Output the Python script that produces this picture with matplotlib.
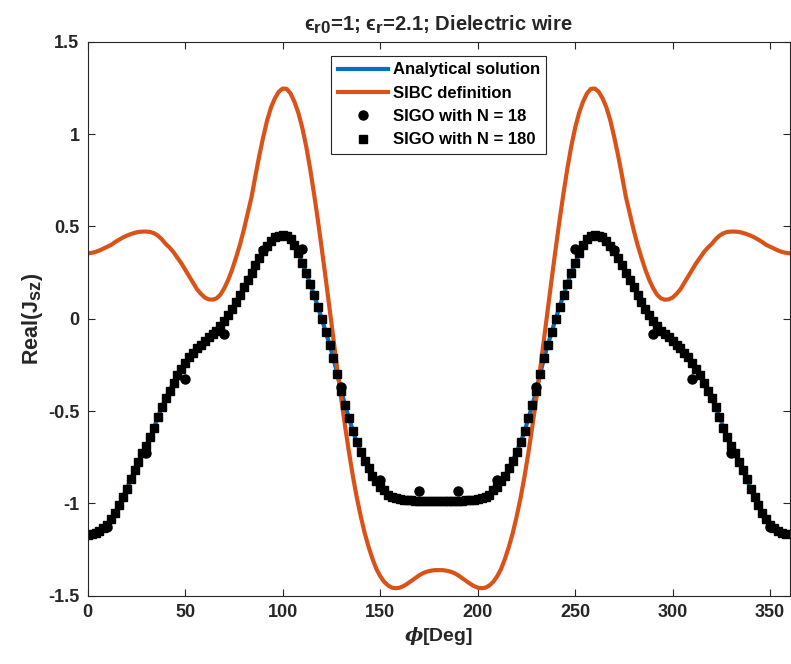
import numpy as np
import matplotlib
matplotlib.use("Agg")
import matplotlib.pyplot as plt
import matplotlib._mathtext as mtext

# MATLAB-like larger subscripts
mtext.SHRINK_FACTOR = 0.85

# angles (deg) of the densely sampled curves, 2 deg step
phi = np.arange(0, 361, 2)

# Analytical solution, Real(Jsz) (also SIGO N = 180 samples)
analytical = [
    -1.17, -1.165, -1.16, -1.15, -1.135, -1.115, -1.085, -1.05, -1.01, -0.965,
    -0.92, -0.87, -0.82, -0.775, -0.73, -0.69, -0.64, -0.59, -0.53, -0.48,
    -0.43, -0.39, -0.35, -0.305, -0.27, -0.24, -0.21, -0.185, -0.16, -0.14,
    -0.12, -0.10, -0.085, -0.065, -0.04, -0.01, 0.02, 0.05, 0.09, 0.13,
    0.17, 0.21, 0.25, 0.29, 0.33, 0.365, 0.395, 0.42, 0.44, 0.45,
    0.453, 0.448, 0.43, 0.40, 0.355, 0.30, 0.25, 0.19, 0.13, 0.065,
    0.0, -0.07, -0.14, -0.215, -0.30, -0.39, -0.47, -0.54, -0.61, -0.67,
    -0.72, -0.77, -0.81, -0.85, -0.88, -0.91, -0.93, -0.953, -0.965, -0.973,
    -0.978, -0.981, -0.983, -0.984, -0.985, -0.985, -0.985, -0.985, -0.985, -0.985,
    -0.985,
    -0.985, -0.985, -0.985, -0.985, -0.985, -0.985, -0.984, -0.983, -0.981, -0.978,
    -0.973, -0.965, -0.953, -0.93, -0.91, -0.88, -0.85, -0.81, -0.77, -0.72,
    -0.67, -0.61, -0.54, -0.47, -0.39, -0.30, -0.215, -0.14, -0.07, 0.0,
    0.065, 0.13, 0.19, 0.25, 0.30, 0.355, 0.40, 0.43, 0.448, 0.453,
    0.45, 0.44, 0.42, 0.395, 0.365, 0.33, 0.29, 0.25, 0.21, 0.17,
    0.13, 0.09, 0.05, 0.02, -0.01, -0.04, -0.065, -0.085, -0.10, -0.12,
    -0.14, -0.16, -0.185, -0.21, -0.24, -0.27, -0.305, -0.35, -0.39, -0.43,
    -0.48, -0.53, -0.59, -0.64, -0.69, -0.73, -0.775, -0.82, -0.87, -0.92,
    -0.965, -1.01, -1.05, -1.085, -1.115, -1.135, -1.15, -1.16, -1.165, -1.17,
]

# SIBC definition
sibc = [
    0.354, 0.357, 0.362, 0.37, 0.38, 0.39, 0.40, 0.415, 0.428, 0.44,
    0.45, 0.458, 0.465, 0.47, 0.472, 0.472, 0.47, 0.463, 0.45, 0.43,
    0.405, 0.385, 0.36, 0.33, 0.30, 0.265, 0.23, 0.195, 0.16, 0.135,
    0.115, 0.105, 0.103, 0.11, 0.13, 0.165, 0.21, 0.265, 0.33, 0.40,
    0.48, 0.57, 0.66, 0.775, 0.885, 0.985, 1.075, 1.145, 1.195, 1.23,
    1.247, 1.245, 1.22, 1.175, 1.115, 1.035, 0.935, 0.815, 0.68, 0.535,
    0.38, 0.22, 0.055, -0.11, -0.275, -0.435, -0.585, -0.725, -0.855, -0.97,
    -1.07, -1.16, -1.235, -1.30, -1.355, -1.395, -1.425, -1.445, -1.457, -1.46,
    -1.457, -1.448, -1.435, -1.42, -1.405, -1.39, -1.378, -1.37, -1.365, -1.362,
    -1.362,
    -1.362, -1.365, -1.37, -1.378, -1.39, -1.405, -1.42, -1.435, -1.448, -1.457,
    -1.46, -1.457, -1.445, -1.425, -1.395, -1.355, -1.30, -1.235, -1.16, -1.07,
    -0.97, -0.855, -0.725, -0.585, -0.435, -0.275, -0.11, 0.055, 0.22, 0.38,
    0.535, 0.68, 0.815, 0.935, 1.035, 1.115, 1.175, 1.22, 1.245, 1.247,
    1.23, 1.195, 1.145, 1.075, 0.985, 0.885, 0.775, 0.66, 0.57, 0.48,
    0.40, 0.33, 0.265, 0.21, 0.165, 0.13, 0.11, 0.103, 0.105, 0.115,
    0.135, 0.16, 0.195, 0.23, 0.265, 0.30, 0.33, 0.36, 0.385, 0.405,
    0.43, 0.45, 0.463, 0.47, 0.472, 0.472, 0.47, 0.465, 0.458, 0.45,
    0.44, 0.428, 0.415, 0.40, 0.39, 0.38, 0.37, 0.362, 0.357, 0.354,
]

# SIGO with N = 18
phi18 = [10, 30, 50, 70, 90, 110, 130, 150, 170, 190, 210, 230, 250, 270, 290, 310, 330, 350]
sigo18 = [-1.13, -0.725, -0.325, -0.085, 0.37, 0.375, -0.37, -0.875, -0.933,
          -0.933, -0.875, -0.37, 0.375, 0.37, -0.085, -0.325, -0.725, -1.13]

# SIGO with N = 180 (every 2 deg, 0..358)
phi180 = phi[:180]
sigo180 = analytical[:180]

plt.rcParams["font.family"] = ["Liberation Sans", "DejaVu Sans"]
plt.rcParams["font.weight"] = "bold"
plt.rcParams["mathtext.fontset"] = "custom"
plt.rcParams["mathtext.rm"] = "Liberation Sans:bold"
plt.rcParams["mathtext.bf"] = "Liberation Sans:bold"
plt.rcParams["mathtext.it"] = "DejaVu Serif:italic"

fig = plt.figure(figsize=(7.91, 6.64), dpi=100)
ax = fig.add_axes([0.111, 0.103, 0.8873, 0.834])

ax.plot(phi, analytical, color="#0072BD", lw=3, label="Analytical solution")
ax.plot(phi, sibc, color="#D95319", lw=3, label="SIBC definition")
ax.plot(phi18, sigo18, "o", color="black", ms=6.5, label="SIGO with N = 18")
ax.plot(phi180, sigo180, "s", color="black", ms=6, label="SIGO with N = 180")

ax.set_xlim(0, 360)
ax.set_ylim(-1.5, 1.5)
ax.set_xticks([0, 50, 100, 150, 200, 250, 300, 350])
ax.set_yticks([-1.5, -1, -0.5, 0, 0.5, 1, 1.5])
ax.set_yticklabels(["-1.5", "-1", "-0.5", "0", "0.5", "1", "1.5"])

gray = "#262626"
for s in ax.spines.values():
    s.set_color(gray)
    s.set_linewidth(0.8)
ax.tick_params(direction="in", top=True, right=True, length=5, width=0.8,
               colors=gray, labelsize=13, pad=6)
for lab in ax.get_xticklabels() + ax.get_yticklabels():
    lab.set_fontweight("bold")

ax.set_title("ϵ$_{\\mathbf{r0}}$=1; ϵ$_{\\mathbf{r}}$=2.1; Dielectric wire",
             fontsize=14.5, fontweight="bold", color=gray, pad=8)
ax.set_xlabel(r"$\phi$[Deg]", fontsize=14, fontweight="bold", color=gray, labelpad=3)
ax.set_ylabel(r"Real(J$_{\mathbf{sz}}$)", fontsize=15.5, fontweight="bold", color=gray, labelpad=2)

leg = ax.legend(loc="upper center", bbox_to_anchor=(0.5, 0.975), borderaxespad=0,
                fontsize=12, handlelength=3.0, labelspacing=0.5, fancybox=False,
                framealpha=1, edgecolor=gray, borderpad=0.4, handletextpad=0.3)
leg.get_frame().set_linewidth(0.8)

fig.savefig("out.png", dpi=100)
